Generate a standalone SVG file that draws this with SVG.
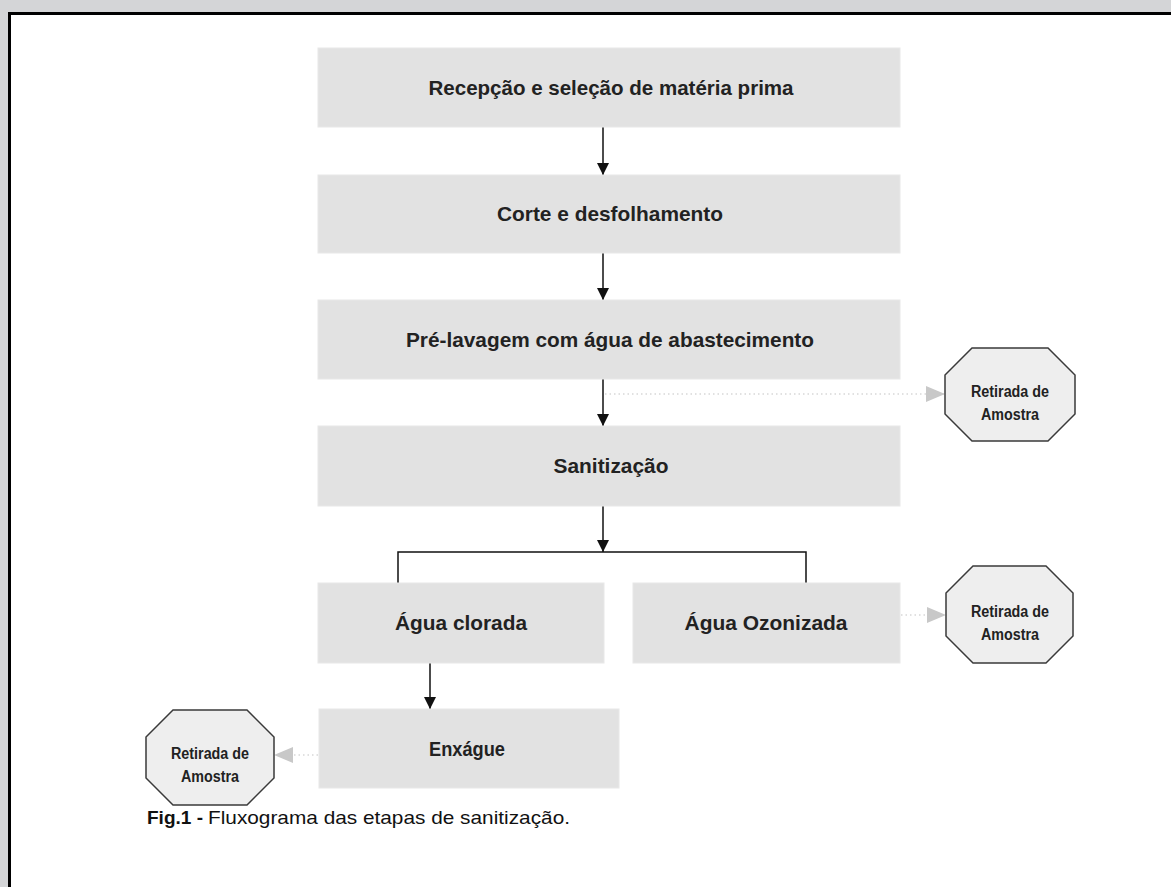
<svg xmlns="http://www.w3.org/2000/svg" width="1171" height="887" viewBox="0 0 1171 887">
<defs>
<style>
.box{fill:#e2e2e2;stroke:#e8e8e8;stroke-width:1}
.lbl{font-family:"Liberation Sans",Arial,sans-serif;font-weight:bold;font-size:21px;fill:#222;text-anchor:middle}
.oct{fill:#eeeeee;stroke:#3a3a3a;stroke-width:1.5}
.olbl{font-family:"Liberation Sans",Arial,sans-serif;font-weight:bold;font-size:16px;fill:#222;text-anchor:middle}
.flow{fill:none;stroke:#111;stroke-width:1.5}
.dot{fill:none;stroke:#c4c4c4;stroke-width:1.2;stroke-dasharray:1.5 3}
.cap{font-family:"Liberation Sans",Arial,sans-serif;font-size:19px;fill:#111}
</style>
<marker id="ah" viewBox="0 0 12 12" refX="12" refY="6" markerWidth="12" markerHeight="12" markerUnits="userSpaceOnUse" orient="auto">
<path d="M0,0 L12,6 L0,12 Z" fill="#111"/>
</marker>
<marker id="gh" viewBox="0 0 19 16" refX="19" refY="8" markerWidth="19" markerHeight="16" markerUnits="userSpaceOnUse" orient="auto">
<path d="M0,0 L19,8 L0,16 Z" fill="#c8c8c8"/>
</marker>
</defs>
<rect x="0" y="0" width="1171" height="887" fill="#d4d5d7"/>
<rect x="8" y="12" width="1163" height="875" fill="#ffffff"/>
<path d="M9.5,887 V13.5 H1171" fill="none" stroke="#000" stroke-width="3"/>

<g id="connectors">
<line class="flow" x1="603" y1="127" x2="603" y2="175" marker-end="url(#ah)"/>
<line class="flow" x1="603" y1="253" x2="603" y2="300" marker-end="url(#ah)"/>
<line class="flow" x1="603" y1="379" x2="603" y2="426" marker-end="url(#ah)"/>
<line class="flow" x1="603" y1="506" x2="603" y2="552" marker-end="url(#ah)"/>
<path class="flow" d="M398,583 V552 H806 V583"/>
<line class="flow" x1="430" y1="663" x2="430" y2="709" marker-end="url(#ah)"/>
<line class="dot" x1="605" y1="394" x2="945" y2="394" marker-end="url(#gh)"/>
<line class="dot" x1="901" y1="615" x2="946" y2="615" marker-end="url(#gh)"/>
<line class="dot" x1="318" y1="755" x2="274" y2="755" marker-end="url(#gh)"/>
</g>

<g id="n1"><rect class="box" x="318" y="48" width="582" height="79"/><text class="lbl" x="611" y="95" textLength="365" lengthAdjust="spacingAndGlyphs">Recepção e seleção de matéria prima</text></g>
<g id="n2"><rect class="box" x="318" y="175" width="582" height="78"/><text class="lbl" x="610" y="221" textLength="226" lengthAdjust="spacingAndGlyphs">Corte e desfolhamento</text></g>
<g id="n3"><rect class="box" x="318" y="300" width="582" height="79"/><text class="lbl" x="610" y="347" textLength="408" lengthAdjust="spacingAndGlyphs">Pré-lavagem com água de abastecimento</text></g>
<g id="n4"><rect class="box" x="318" y="426" width="582" height="80"/><text class="lbl" x="611" y="473" textLength="115" lengthAdjust="spacingAndGlyphs">Sanitização</text></g>
<g id="n5"><rect class="box" x="318" y="583" width="286" height="80"/><text class="lbl" x="461" y="630" textLength="132" lengthAdjust="spacingAndGlyphs">Água clorada</text></g>
<g id="n6"><rect class="box" x="633" y="583" width="267" height="80"/><text class="lbl" x="766" y="630" textLength="163" lengthAdjust="spacingAndGlyphs">Água Ozonizada</text></g>
<g id="n7"><rect class="box" x="319" y="709" width="300" height="79"/><text class="lbl" x="467" y="756" textLength="76" lengthAdjust="spacingAndGlyphs">Enxágue</text></g>

<g id="s1"><path class="oct" d="M972,348 H1048 L1075,375 V414 L1048,441 H972 L945,414 V375 Z"/><text class="olbl" x="1010" y="397" textLength="78" lengthAdjust="spacingAndGlyphs">Retirada de</text><text class="olbl" x="1010" y="420" textLength="58" lengthAdjust="spacingAndGlyphs">Amostra</text></g>
<g id="s2"><path class="oct" d="M973,566 H1046 L1073,593 V636 L1046,663 H973 L946,636 V593 Z"/><text class="olbl" x="1010" y="617" textLength="78" lengthAdjust="spacingAndGlyphs">Retirada de</text><text class="olbl" x="1010" y="640" textLength="58" lengthAdjust="spacingAndGlyphs">Amostra</text></g>
<g id="s3"><path class="oct" d="M173,710 H247 L274,737 V778 L247,805 H173 L146,778 V737 Z"/><text class="olbl" x="210" y="759" textLength="78" lengthAdjust="spacingAndGlyphs">Retirada de</text><text class="olbl" x="210" y="782" textLength="58" lengthAdjust="spacingAndGlyphs">Amostra</text></g>

<g id="caption"><text class="cap" x="147" y="824"><tspan font-weight="bold" textLength="56" lengthAdjust="spacingAndGlyphs">Fig.1 -</tspan><tspan x="208" textLength="362" lengthAdjust="spacingAndGlyphs">Fluxograma das etapas de sanitização.</tspan></text></g>
</svg>
